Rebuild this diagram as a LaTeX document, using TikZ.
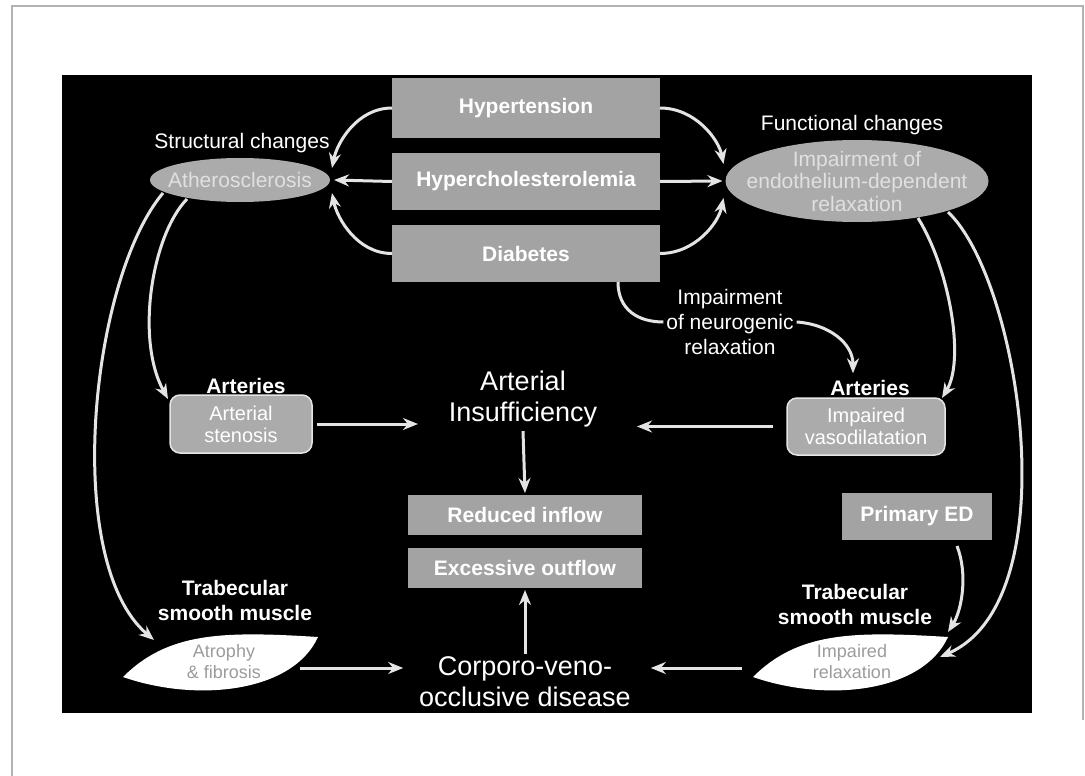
\documentclass[tikz,border=0pt]{standalone}
\usepackage{fontspec}
\setmainfont{Liberation Sans}
\usetikzlibrary{calc,arrows.meta,shapes.geometric}
\definecolor{boxgray}{HTML}{A3A3A3}
\definecolor{ellgray}{HTML}{ABABAB}
\definecolor{elltext}{HTML}{E0E0E0}
\definecolor{linegray}{HTML}{E4E4E4}
\definecolor{leaftext}{HTML}{9C9C9C}
\begin{document}
\begin{tikzpicture}[x=1pt,y=-1pt,
  every node/.style={inner sep=0pt, outer sep=0pt, align=center},
  lbl/.style={text=white, font=\fontsize{21}{25}\selectfont},
  blbl/.style={text=white, font=\fontsize{21}{25}\selectfont\bfseries},
  big/.style={text=white, font=\fontsize{27}{31}\selectfont},
  gbox/.style={fill=boxgray, text=white, font=\fontsize{21}{25}\selectfont\bfseries},
  ellbox/.style={ellipse, fill=ellgray},
  elltxt/.style={text=elltext, font=\fontsize{21}{22.5}\selectfont},
  rbox/.style={rounded corners=10pt, fill=ellgray, draw=white!80!gray, line width=1.5pt, text=white, font=\fontsize{20}{22}\selectfont},
  leaftxt/.style={text=leaftext, font=\fontsize{18}{21}\selectfont},
  leaf/.style={fill=white},
  arr/.style={draw=linegray, line width=3pt, -{Stealth[length=15pt,width=12pt]}},
  con/.style={draw=linegray, line width=3pt},
]
\useasboundingbox (0,0) rectangle (1085,776);
\fill[white] (0,0) rectangle (1085,776);
\draw[gray!60, line width=1.5pt] (12,776) -- (12,6) -- (1083,6) -- (1083,720);
\fill[black] (62,75) rectangle (1032,713);

% top boxes
\node[gbox, minimum width=268, minimum height=60] (hyp) at (526,108) {Hypertension};
\node[gbox, minimum width=268, minimum height=57] (chol) at (526,181.5) {Hypercholesterolemia};
\node[gbox, minimum width=268, minimum height=57] (diab) at (526,253.5) {Diabetes};

% ellipses
\node[lbl] (struct) at (242,143) {Structural changes};
\node[ellbox, minimum width=180, minimum height=44] (ath) at (240,180) {};
\node[elltxt] at (ath) {Atherosclerosis};
\node[lbl] (funct) at (852,125) {Functional changes};
\node[ellbox, minimum width=263, minimum height=82] (func) at (857,181) {};
\node[elltxt] at (func) {Impairment of\\endothelium-dependent\\relaxation};

% neurogenic
\node[lbl] (neuro) at (730,322) {Impairment\\of neurogenic\\relaxation};

% arteries
\node[blbl] (artLlab) at (246,386) {Arteries};
\node[rbox, minimum width=142, minimum height=58] (artL) at (241,424) {Arterial\\stenosis};
\node[blbl] (artRlab) at (870,388) {Arteries};
\node[rbox, minimum width=158, minimum height=57] (artR) at (866,426.5) {Impaired\\vasodilatation};

% center
\node[big] (AI) at (523,399) {Arterial\\Insufficiency};
\node[gbox, minimum width=234, minimum height=40] (red) at (525,515) {Reduced inflow};
\node[gbox, minimum width=234, minimum height=40] (exc) at (525,568) {Excessive outflow};
\node[big] (corp) at (525,682) {Corporo-veno-\\occlusive disease};
\node[gbox, minimum width=150, minimum height=47] (ped) at (917,516.5) {Primary ED};

% trabecular labels
\node[blbl] (tsmL) at (235,600) {Trabecular\\smooth muscle};
\node[blbl] (tsmR) at (855,604) {Trabecular\\smooth muscle};

% leaves
\coordinate (lLa) at (123,677); \coordinate (lLb) at (318,637);
\coordinate (lRa) at (753,677); \coordinate (lRb) at (948,637);
\fill[leaf] (lLa) .. controls +(45,-45) and +(-95,-6) .. (lLb) .. controls +(-25,55) and +(75,26) .. (lLa);
\fill[leaf] (lRa) .. controls +(45,-45) and +(-95,-6) .. (lRb) .. controls +(-25,55) and +(75,26) .. (lRa);
\node[leaftxt] (leafL) at (224,662) {Atrophy\\\& fibrosis};
\node[leaftxt] (leafR) at (852,662) {Impaired\\relaxation};

% connectors: risk factors to structural / functional
\draw[arr] (hyp.west) .. controls +(-35,0) and +(5,-25) .. ($(ath.east)+(2,-12)$);
\draw[arr] (chol.west) -- ($(ath.east)+(4,0)$);
\draw[arr] (diab.west) .. controls +(-35,0) and +(5,25) .. ($(ath.east)+(2,13)$);
\draw[arr] (hyp.east) .. controls +(35,0) and +(-5,-25) .. ($(func.west)+(-2,-17)$);
\draw[arr] (chol.east) -- ($(func.west)+(-3,0)$);
\draw[arr] (diab.east) .. controls +(35,0) and +(-5,25) .. ($(func.west)+(-2,17)$);

% left side
\draw[arr] ($(ath.center)+(-53,19)$) .. controls +(-35,36) and +(-33,-60) .. ($(artL.north west)+(-2,4)$);
\draw[arr] ($(ath.center)+(-77,13)$) .. controls +(-73,87) and +(-92,-78) .. ($(leafL)+(-70,-22)$);

% right side
\draw[arr] ($(func.center)+(61,37)$) .. controls +(32,52) and +(23,-38) .. ($(artR.north east)+(-3,0)$);
\draw[arr] ($(func.center)+(91,31)$) .. controls +(72,68) and +(130,-57) .. ($(leafR)+(88,-5)$);

% neurogenic path
\draw[con] ($(diab.south)+(92,0)$) .. controls +(0,28) and +(-25,0) .. ($(neuro.west)+(-3,0)$);
\draw[arr] ($(neuro.east)+(3,0)$) .. controls +(32,2) and +(0,-30) .. ($(artRlab.north)+(-17,-7)$);

% to arterial insufficiency
\draw[arr] ([xshift=5pt]artL.east) -- ([xshift=-31pt]artL.east -| AI.west);
\draw[arr] ([xshift=-14pt]artR.west) -- ([xshift=40pt]artR.west -| AI.east);
\draw[arr] ([yshift=-4pt]AI.south) -- ([yshift=2pt]red.north);

% bottom
\draw[arr] ([yshift=3pt]corp.north) -- ([yshift=-2pt]exc.south);
\draw[arr] ($(leafL)+(76,6)$) -- ($(corp.west)+(-16,-14)$);
\draw[arr] ($(leafR)+(-110,6)$) -- ($(corp.east)+(20,-14)$);
\draw[arr] ($(ped.south)+(40,6)$) .. controls +(11,28) and +(14,-22) .. ($(leafR)+(96,-30)$);
\end{tikzpicture}
\end{document}
